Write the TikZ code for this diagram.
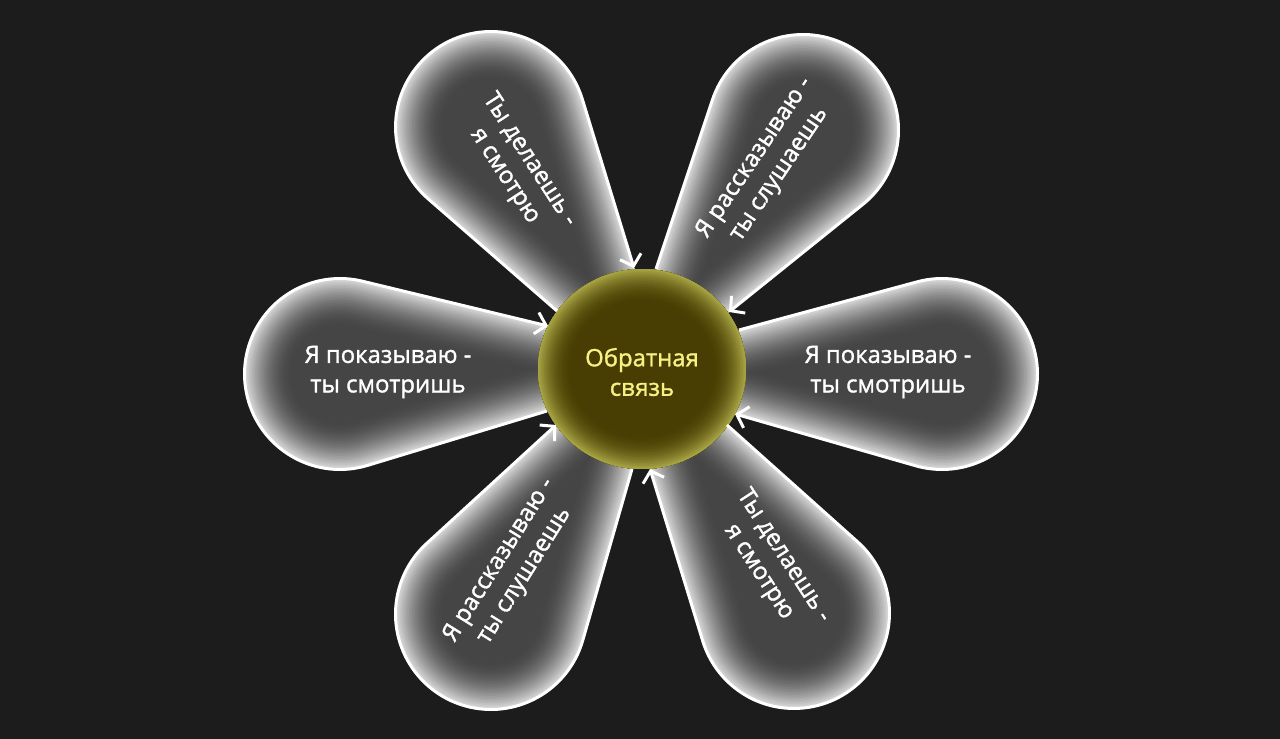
\documentclass[tikz,border=0pt]{standalone}
\usepackage{fontspec}
\newfontfamily\lblfont{Open Sans}[FakeBold=1.4]
\usetikzlibrary{calc,arrows.meta}
\definecolor{bg}{HTML}{1C1C1C}
\definecolor{petalgray}{HTML}{454545}
\definecolor{coreolive}{HTML}{483D02}
\definecolor{rimolive}{HTML}{A9A645}
\definecolor{txtyellow}{HTML}{F7F184}
\def\solA{1}
\def\solB{2}
\newcommand\petalarc[1]{let \p1=($(#1t2)-(#1c.center)$), \p2=($(#1t1)-(#1c.center)$), \n1={atan2(\y1,\x1)}, \n2={atan2(\y2,\x2)}, \n3={Mod((\n1)-(\n2),360)} in arc[start angle=\n1, delta angle=-\n3, radius=1.91cm]}
\newcommand\petalpath[1]{(#1a) -- (#1t2) \petalarc{#1} -- cycle}
\newcommand\mkpetal[4]{%
  \node[petalcirc] (#1c) at #2 {};
  \coordinate (#1q1) at #3;
  \coordinate (#1q2) at #4;
  \coordinate (#1t1) at (tangent cs:node=#1c,point={(#1q1)},solution=\solA);
  \coordinate (#1t2) at (tangent cs:node=#1c,point={(#1q2)},solution=\solB);
  \coordinate (#1a) at (intersection of #1t1--#1q1 and #1t2--#1q2);
}
\newcommand\fillpetal[1]{%
  \fill[petalgray] \petalpath{#1};
  \begin{scope}
    \clip \petalpath{#1};
    \foreach \i in {32,...,1}{%
      \pgfmathsetmacro\hw{\i*1.5}%
      \pgfmathsetmacro\ff{82*(1-(\hw-0.75)/48)^1.8}%
      \draw[line width=\hw*0.04cm, line join=round, draw=white!\ff!petalgray] \petalpath{#1};
    }
  \end{scope}}
\newcommand\edgepetal[1]{\draw[petaledge] (#1q2) -- (#1t2) \petalarc{#1} -- (#1q1);}
\begin{document}
\begin{tikzpicture}[x=0.02cm,y=-0.02cm,
  petalcirc/.style={circle, minimum size=3.82cm, inner sep=0pt, outer sep=0pt},
  petaledge/.style={draw=white, line width=1.7pt, line join=round,
    -{Straight Barb[length=0.2cm, width=0.44cm]}},
  lbl/.style={font=\lblfont\fontsize{13.6}{16.8}\selectfont, text=white, align=center, inner sep=0pt},
  corelbl/.style={font=\lblfont\fontsize{13.6}{16.8}\selectfont, text=txtyellow, align=center, inner sep=0pt}]
\fill[bg] (0,0) rectangle (1280,739);
\useasboundingbox (0,0) rectangle (1280,739);

\mkpetal{L}{(340,374)}{(548,326)}{(547,411)}
\mkpetal{TL}{(491,127)}{(634,268)}{(557,311)}
\mkpetal{TR}{(803,130)}{(729,312)}{(656,269)}
\mkpetal{R}{(942,374)}{(735,414)}{(739,330)}
\mkpetal{BR}{(794,613)}{(650,469)}{(727,425)}
\mkpetal{BL}{(491,614)}{(556,425)}{(632,469)}

\fillpetal{L}
\fillpetal{TL}
\fillpetal{TR}
\fillpetal{R}
\fillpetal{BR}
\fillpetal{BL}

% centre
\coordinate (core) at (642,369);
\fill[coreolive] (core) ellipse[x radius=2.08cm, y radius=2.0cm];
\begin{scope}
  \clip (core) ellipse[x radius=2.08cm, y radius=2.0cm];
  \foreach \i in {24,...,1}{%
    \pgfmathsetmacro\hw{\i*1.5}%
    \pgfmathsetmacro\ff{100*(1-(\hw-0.75)/36)^2}%
    \draw[line width=\hw*0.04cm, draw=rimolive!\ff!coreolive] (core) ellipse[x radius=2.08cm, y radius=2.0cm];
  }
\end{scope}

\edgepetal{L}
\edgepetal{TL}
\edgepetal{TR}
\edgepetal{R}
\edgepetal{BR}
\edgepetal{BL}

\node[corelbl] (coretext) at (642,372) {Обратная\\связь};
\node[lbl] (txtL) at (388,372) {Я показываю -\\ты смотришь};
\node[lbl] (txtR) at (888,372) {Я показываю -\\ты смотришь};
\node[lbl, rotate=-57] (txtTL) at (517,168) {Ты делаешь -\\я смотрю};
\node[lbl, rotate=56] (txtTR) at (767,166) {Я рассказываю -\\ты слушаешь};
\node[lbl, rotate=58] (txtBL) at (512,568) {Я рассказываю -\\ты слушаешь};
\node[lbl, rotate=-57] (txtBR) at (771,564) {Ты делаешь -\\я смотрю};
\end{tikzpicture}
\end{document}
